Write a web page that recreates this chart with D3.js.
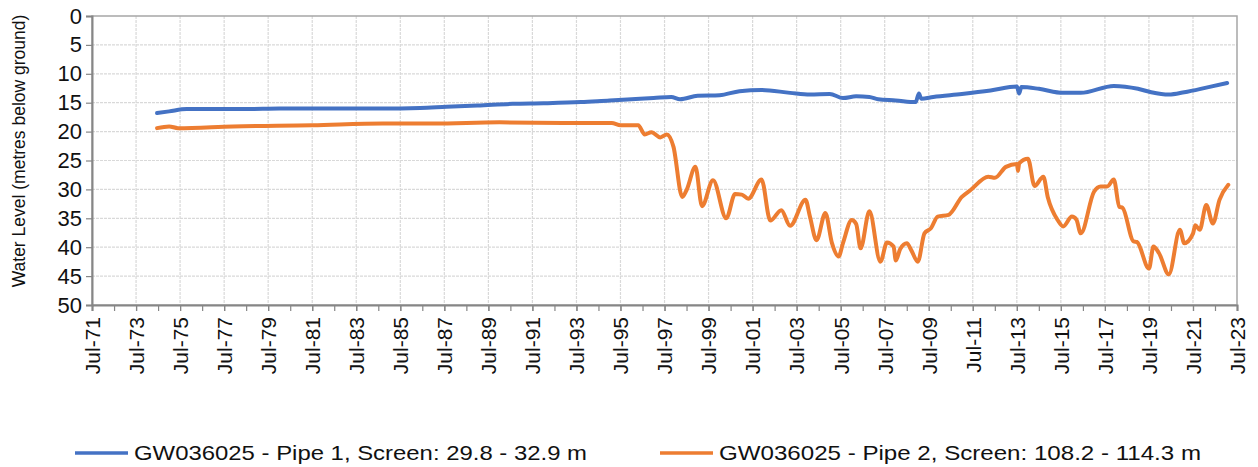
<!DOCTYPE html>
<html>
<head>
<meta charset="utf-8">
<script src="https://cdn.jsdelivr.net/npm/d3@7"></script>
<style>
  body { margin: 0; background: #fff; }
  svg { display: block; font-family: "Liberation Sans", Arial, sans-serif; }
</style>
</head>
<body>
<div id="chart"></div>
<script>
// decimal years, levels in metres below ground
const pipe1Years = [1974.45, 1975.0, 1975.8, 1977.0, 1978.5, 1980.0, 1981.5, 1983.0, 1984.6, 1986.4, 1987.6,
  1989.0, 1990.6, 1992.0, 1993.7, 1995.0, 1996.0, 1997.0, 1997.8, 1998.2, 1999.0, 2000.0, 2000.9, 2001.9,
  2003.2, 2004.1, 2005.0, 2005.6, 2006.2, 2006.8, 2007.2, 2008.0, 2008.9, 2009.05, 2009.15, 2009.7,
  2011.0, 2012.3, 2013.5, 2013.6, 2013.7, 2014.5, 2015.6, 2016.4, 2017.9, 2019.0, 2019.6, 2020.4,
  2021.1, 2022.2, 2023.05];
const pipe1Levels = [16.8, 16.5, 16.1, 16.1, 16.1, 16.0, 16.0, 16.0, 16.0, 15.9, 15.7,
  15.5, 15.2, 15.1, 14.9, 14.6, 14.4, 14.2, 14.0, 14.4, 13.8, 13.7, 13.0, 12.8,
  13.3, 13.6, 13.5, 14.2, 13.9, 14.0, 14.4, 14.6, 14.9, 13.4, 14.3, 14.0,
  13.5, 12.9, 12.2, 13.4, 12.3, 12.6, 13.3, 13.3, 12.1, 12.6, 13.2, 13.6,
  13.2, 12.3, 11.6];

const pipe2Years = [1974.45, 1975.0, 1975.4, 1977.9, 1981.5, 1984.7, 1987.0, 1990.0, 1993.0, 1995.1, 1995.5,
  1996.3, 1996.6, 1996.9, 1997.3, 1997.6, 1997.9, 1998.3, 1998.5, 1998.9, 1999.2, 1999.7, 2000.3, 2000.7,
  2001.0, 2001.3, 2001.9, 2002.3, 2002.8, 2003.2, 2003.9, 2004.1, 2004.4, 2004.8, 2005.1, 2005.4, 2005.6,
  2006.0, 2006.2, 2006.4, 2006.8, 2007.3, 2007.6, 2007.9, 2008.0, 2008.2, 2008.5, 2008.7, 2009.0, 2009.3,
  2009.6, 2009.9, 2010.4, 2011.0, 2011.4, 2012.2, 2012.5, 2013.0, 2013.5, 2013.55, 2013.6, 2014.0, 2014.3,
  2014.7, 2014.9, 2015.35, 2015.6, 2016.0, 2016.2, 2016.4, 2017.0, 2017.3, 2017.6, 2017.9, 2018.15, 2018.3,
  2018.8, 2018.95, 2019.5, 2019.7, 2019.95, 2020.4, 2020.9, 2021.1, 2021.5, 2021.6, 2021.8, 2022.1, 2022.4,
  2022.7, 2023.1];
const pipe2Levels = [19.4, 19.1, 19.4, 19.1, 18.9, 18.6, 18.6, 18.4, 18.5, 18.5, 18.9,
  18.9, 20.5, 20.1, 21.0, 20.5, 22.6, 31.3, 30.1, 26.1, 32.9, 28.4, 35.0, 30.8,
  30.9, 31.6, 28.3, 35.4, 33.6, 36.3, 31.8, 34.7, 38.8, 34.1, 39.3, 41.6, 39.3,
  35.3, 36.0, 40.2, 33.8, 42.5, 39.2, 39.9, 42.3, 40.3, 39.3, 40.5, 42.5, 37.6,
  36.7, 34.7, 34.4, 31.3, 30.1, 27.8, 28.0, 26.1, 25.6, 26.8, 25.5, 24.7, 29.4,
  27.8, 31.3, 35.3, 36.4, 34.7, 35.2, 37.6, 30.4, 29.5, 29.5, 28.3, 33.0, 33.2,
  39.0, 39.1, 43.7, 39.9, 41.0, 44.7, 37.0, 39.3, 37.6, 36.2, 37.0, 32.7, 35.9,
  31.8, 29.2];

const yTicks = [0, 5, 10, 15, 20, 25, 30, 35, 40, 45, 50];
const seriesNames = ["GW036025 - Pipe 1, Screen: 29.8 - 32.9 m", "GW036025 - Pipe 2, Screen: 108.2 - 114.3 m"];
const seriesColors = ["#4472C4", "#ED7D31"];

const W = 1258, H = 467;
const margin = { top: 16, right: 21, bottom: 162, left: 92 };

function toDate(y) {
  const yr = Math.floor(y);
  const a = new Date(yr, 0, 1), b = new Date(yr + 1, 0, 1);
  return new Date(+a + (y - yr) * (b - a));
}

const svg = d3.select("#chart").append("svg").attr("width", W).attr("height", H);

const x = d3.scaleTime()
  .domain([new Date(1971, 6, 1), new Date(2023, 6, 1)])
  .range([margin.left, W - margin.right]);
const y = d3.scaleLinear().domain([0, 50]).range([margin.top, H - margin.bottom]);

const minorTicks = d3.range(1971, 2024).map(yr => new Date(yr, 6, 1));
const majorTicks = minorTicks.filter(d => d.getFullYear() % 2 === 1);

// gridlines
svg.append("g").selectAll("line").data(yTicks.slice(1, -1)).join("line")
  .attr("x1", margin.left).attr("x2", W - margin.right)
  .attr("y1", d => y(d)).attr("y2", d => y(d))
  .attr("stroke", "#d9d9d9").attr("stroke-width", 1.2).attr("stroke-dasharray", "3,1");
svg.append("g").selectAll("line").data(majorTicks.slice(1, -1)).join("line")
  .attr("x1", d => x(d)).attr("x2", d => x(d))
  .attr("y1", margin.top).attr("y2", H - margin.bottom)
  .attr("stroke", "#d9d9d9").attr("stroke-width", 1.2).attr("stroke-dasharray", "3,1");

// plot border
svg.append("rect")
  .attr("x", margin.left).attr("y", margin.top)
  .attr("width", W - margin.left - margin.right).attr("height", H - margin.top - margin.bottom)
  .attr("fill", "none").attr("stroke", "#a6a6a6").attr("stroke-width", 1.5);

// y axis
const yAxis = svg.append("g")
  .attr("transform", `translate(${margin.left},0)`)
  .call(d3.axisLeft(y).tickValues(yTicks).tickSize(6).tickPadding(4));
yAxis.select(".domain").attr("stroke", "#868686").attr("stroke-width", 2);
yAxis.selectAll(".tick line").attr("stroke", "#868686").attr("stroke-width", 1.2);
yAxis.selectAll("text").attr("font-size", 22).attr("fill", "#111").attr("font-family", "Liberation Sans, Arial, sans-serif");

// x axis: minor ticks yearly, labels every two years
const xMinor = svg.append("g")
  .attr("transform", `translate(0,${H - margin.bottom})`)
  .call(d3.axisBottom(x).tickValues(minorTicks).tickSize(6).tickFormat(""));
xMinor.select(".domain").remove();
xMinor.selectAll(".tick line").attr("stroke", "#868686").attr("stroke-width", 1.2);

const xAxis = svg.append("g")
  .attr("transform", `translate(0,${H - margin.bottom})`)
  .call(d3.axisBottom(x).tickValues(majorTicks).tickSize(6).tickFormat(d3.timeFormat("%b-%y")));
xAxis.select(".domain").attr("stroke", "#868686").attr("stroke-width", 2);
xAxis.selectAll(".tick line").attr("stroke", "#868686").attr("stroke-width", 1.2);
xAxis.selectAll("text")
  .attr("font-size", 21).attr("fill", "#111").attr("font-family", "Liberation Sans, Arial, sans-serif")
  .attr("text-anchor", "end")
  .attr("transform", "rotate(-90)")
  .attr("x", -12).attr("y", 0).attr("dy", "0.35em");

// y title
svg.append("text")
  .attr("transform", `translate(25,151) rotate(-90)`)
  .attr("text-anchor", "middle")
  .attr("font-size", 17.5).attr("fill", "#111")
  .text("Water Level (metres below ground)");

// lines
const line = d3.line().curve(d3.curveMonotoneX).x(d => x(toDate(d[0]))).y(d => y(d[1]));
const series = [d3.zip(pipe1Years, pipe1Levels), d3.zip(pipe2Years, pipe2Levels)];
svg.append("g").selectAll("path").data(series).join("path")
  .attr("d", line)
  .attr("fill", "none")
  .attr("stroke", (d, i) => seriesColors[i])
  .attr("stroke-width", 4)
  .attr("stroke-linejoin", "round")
  .attr("stroke-linecap", "round");

// legend
const legendX = [75, 660];
const legendW = [453, 482];
const legend = svg.append("g").selectAll("g").data(seriesNames).join("g")
  .attr("transform", (d, i) => `translate(${legendX[i]},453)`);
legend.append("line")
  .attr("x1", 0).attr("x2", 53).attr("y1", 0).attr("y2", 0)
  .attr("stroke", (d, i) => seriesColors[i]).attr("stroke-width", 3.5);
legend.append("text")
  .attr("x", 59).attr("y", 7)
  .attr("font-size", 21).attr("fill", "#111")
  .attr("textLength", (d, i) => legendW[i]).attr("lengthAdjust", "spacingAndGlyphs")
  .text(d => d);
</script>
</body>
</html>
